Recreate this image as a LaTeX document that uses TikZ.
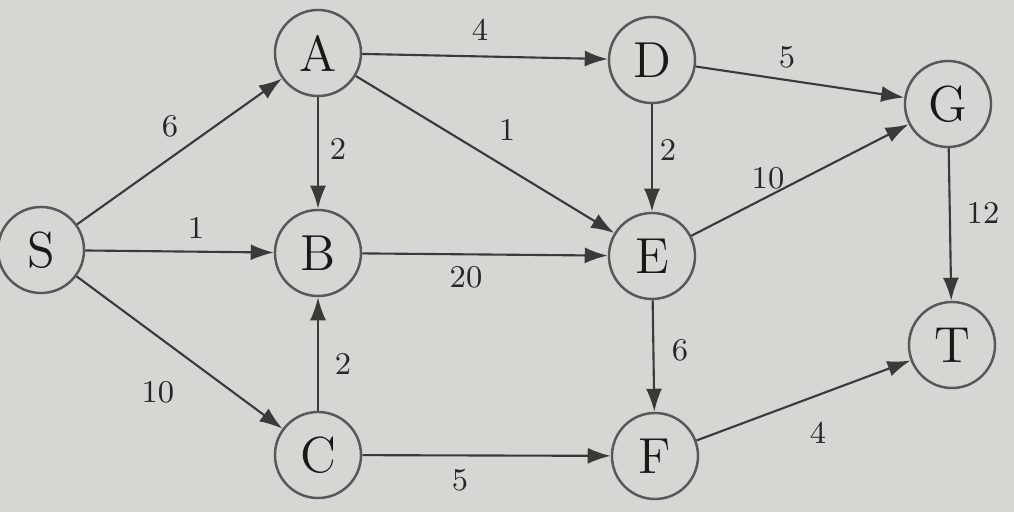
\documentclass[tikz,border=0pt]{standalone}
\usepackage{xcolor}
\usepackage{tikz}
\usetikzlibrary{arrows.meta,positioning}
\definecolor{paperbg}{HTML}{D6D6D3}
\definecolor{inkgray}{HTML}{3A3A3A}
\tikzset{
  vertexnode/.style={circle,draw=inkgray!85,line width=0.7pt,minimum size=0.86cm,
    inner sep=0pt,font=\Large,text=black!90},
  weightlabel/.style={font=\small,text=black!85,inner sep=1pt},
  flowarrow/.style={-{Latex[length=2.3mm,width=1.6mm]},draw=inkgray,line width=0.6pt}
}

\begin{document}
\begin{tikzpicture}[x=0.01cm,y=-0.01cm]
  \fill[paperbg] (0,0) rectangle (1014,512);
  \useasboundingbox (0,0) rectangle (1014,512);

  \node[vertexnode] (S) at (41,250) {S};
  \node[vertexnode] (A) at (318,53) {A};
  \node[vertexnode] (B) at (318,253) {B};
  \node[vertexnode] (C) at (318,455) {C};
  \node[vertexnode] (D) at (652,60) {D};
  \node[vertexnode] (E) at (652,256) {E};
  \node[vertexnode] (F) at (655,456) {F};
  \node[vertexnode] (G) at (948,104) {G};
  \node[vertexnode] (T) at (952,345) {T};

  \draw[flowarrow] (S)--(A);
  \draw[flowarrow] (S)--(B);
  \draw[flowarrow] (S)--(C);
  \draw[flowarrow] (A)--(D);
  \draw[flowarrow] (A)--(B);
  \draw[flowarrow] (A)--(E);
  \draw[flowarrow] (C)--(B);
  \draw[flowarrow] (B)--(E);
  \draw[flowarrow] (C)--(F);
  \draw[flowarrow] (D)--(G);
  \draw[flowarrow] (D)--(E);
  \draw[flowarrow] (E)--(G);
  \draw[flowarrow] (E)--(F);
  \draw[flowarrow] (G)--(T);
  \draw[flowarrow] (F)--(T);

  \node[weightlabel] (wSA) at (170,126) {6};
  \node[weightlabel] (wSB) at (196,228) {1};
  \node[weightlabel] (wSC) at (158,392) {10};
  \node[weightlabel] (wAD) at (480,30) {4};
  \node[weightlabel] (wAB) at (338,149) {2};
  \node[weightlabel] (wAE) at (507,130) {1};
  \node[weightlabel] (wCB) at (343,364) {2};
  \node[weightlabel] (wBE) at (466,277) {20};
  \node[weightlabel] (wCF) at (460,480) {5};
  \node[weightlabel] (wDG) at (787,57) {5};
  \node[weightlabel] (wDE) at (668,150) {2};
  \node[weightlabel] (wEG) at (768,178) {10};
  \node[weightlabel] (wEF) at (680,350) {6};
  \node[weightlabel] (wGT) at (983,213) {12};
  \node[weightlabel] (wFT) at (818,433) {4};
\end{tikzpicture}
\end{document}
